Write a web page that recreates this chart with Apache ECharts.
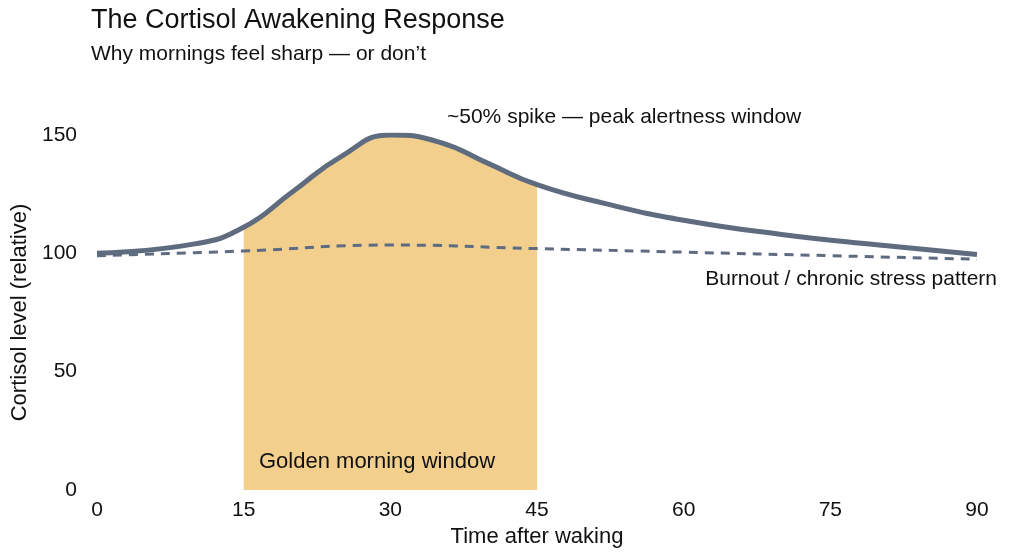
<!DOCTYPE html>
<html><head><meta charset="utf-8">
<script src="https://cdn.jsdelivr.net/npm/echarts@6/dist/echarts.min.js"></script>
<style>html,body{margin:0;padding:0;background:#fff}#main{width:1024px;height:559px}</style>
</head><body><div id="main"></div>
<script>
var chart = echarts.init(document.getElementById('main'));
// cortisol curves
var normal = [[0,100],[10,104],[15,111],[20,126],[25,141],[30,150],[35,147],[40,138],[45,129],[52,121],[60,114],[70,108],[80,103.5],[90,99.5]];
var burnout = [[0,99],[15,101],[30,103.5],[45,102],[60,100.5],[75,99],[90,97.5]];
var golden = normal.filter(function(p){return p[0]>=15 && p[0]<=45;});
var font = 'Liberation Sans';
var option = {
    textStyle:{fontFamily:font},
    title:{text:'The Cortisol Awakening Response',subtext:'Why mornings feel sharp — or don’t',left:86,top:2,
        textStyle:{fontSize:27,fontWeight:'normal',color:'#111'},subtextStyle:{fontSize:21,color:'#111'},itemGap:10},
    grid:{left:97,right:47,top:135,bottom:69},
    xAxis:{type:'value',min:0,max:90,interval:15,name:'Time after waking',nameLocation:'middle',nameGap:36,
        nameTextStyle:{fontSize:22,color:'#111'},axisLine:{show:false},axisTick:{show:false},splitLine:{show:false},
        axisLabel:{fontSize:21,color:'#111',margin:10}},
    yAxis:{type:'value',min:0,max:150,interval:50,name:'Cortisol level (relative)',nameLocation:'middle',nameGap:66,
        nameTextStyle:{fontSize:22,color:'#111'},axisLine:{show:false},axisTick:{show:false},splitLine:{show:false},
        axisLabel:{fontSize:21,color:'#111',margin:20}},
    series:[
        {type:'line',data:golden,smooth:0.5,symbol:'none',lineStyle:{width:0},areaStyle:{color:'#f3cf8e',opacity:1},z:1},
        {type:'line',data:burnout,smooth:true,symbol:'none',lineStyle:{color:'#5f6b7f',width:3,type:[9,7]},z:2},
        {type:'line',data:normal,smooth:0.5,symbol:'none',lineStyle:{color:'#5f6b7f',width:5},z:3}
    ],
    graphic:[
        {type:'text',left:447,top:107,z:100,style:{text:'~50% spike — peak alertness window',fontSize:21,fill:'#111',fontFamily:font}},
        {type:'text',right:27,top:269,z:100,style:{text:'Burnout / chronic stress pattern',fontSize:21,fill:'#111',fontFamily:font}},
        {type:'text',left:259,top:451,z:100,style:{text:'Golden morning window',fontSize:22,fill:'#111',fontFamily:font}}
    ]
};
chart.setOption(option);
</script></body></html>
